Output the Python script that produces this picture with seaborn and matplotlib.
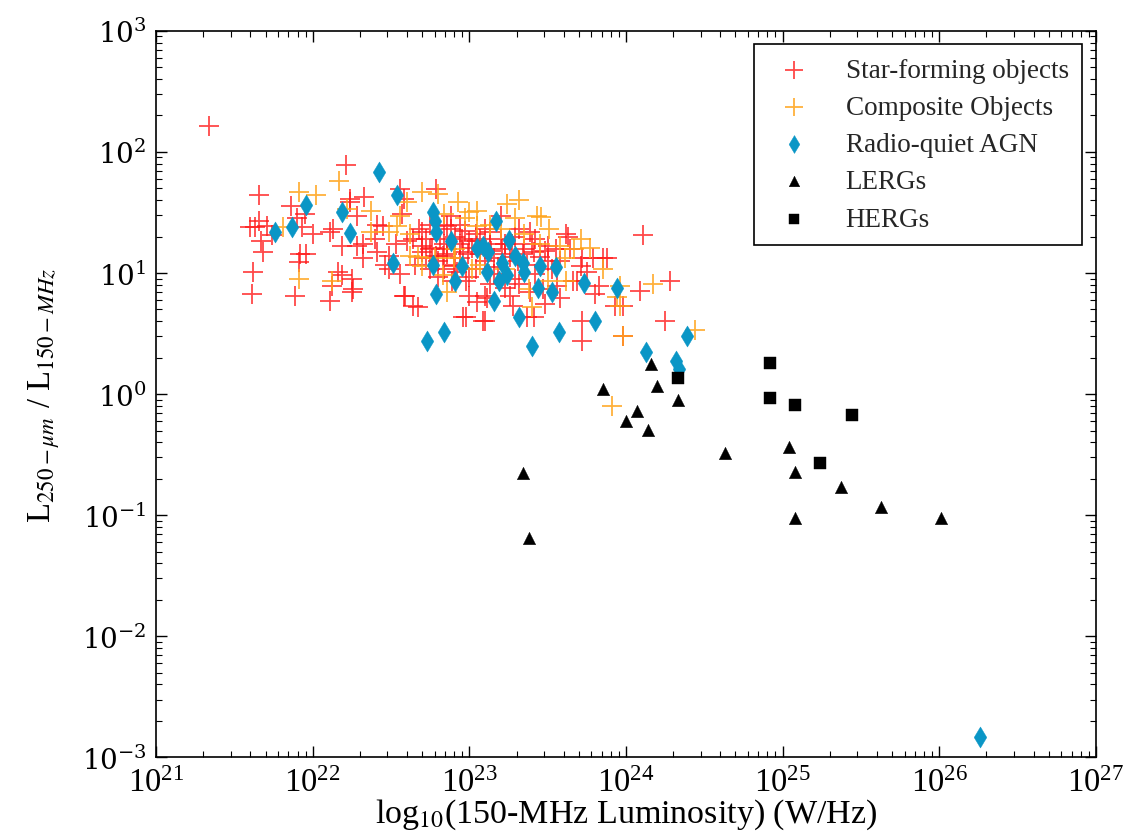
import numpy as np
import pandas as pd
import seaborn as sns
from matplotlib import pyplot as plt
from matplotlib.ticker import NullFormatter

# values, stored as log10 of each axis
sf_logL = [21.34, 22.21, 21.66, 21.86, 21.66, 21.63, 21.71, 21.60, 21.90, 21.95,
           21.93, 22.00, 22.11, 22.24, 22.33, 22.28, 21.67, 21.74, 21.68, 21.62,
           21.61, 21.96, 21.92, 21.91, 21.89, 22.16, 22.11, 22.25, 22.25, 22.19,
           22.28, 22.32, 22.41, 22.49, 22.45, 22.58, 22.79, 22.60, 22.70, 22.83,
           22.90, 22.58, 22.67, 22.96, 22.24, 22.41, 22.32, 22.56, 22.57, 22.64,
           22.70, 22.75, 22.79, 22.86, 22.96, 23.00, 22.98, 22.92, 22.19, 22.26,
           22.12, 23.00, 22.98, 23.09, 23.10, 22.49, 22.13, 22.70, 22.86, 22.88,
           23.32, 23.39, 23.62, 23.64, 23.50, 23.41, 23.72, 23.79, 23.85, 23.75,
           23.69, 23.56, 23.47, 23.39, 23.26, 23.11, 23.05, 23.28, 23.37, 23.10,
           23.72, 23.72, 23.98, 23.20, 23.13, 23.05, 23.21, 24.11, 23.63, 23.88,
           23.71, 23.66, 23.83, 24.09, 24.28, 23.93, 24.25, 22.64, 22.59, 23.41,
           22.81, 22.84, 22.91, 22.94, 22.97, 23.04, 23.07, 23.13, 23.16, 23.20,
           23.23, 23.27, 23.31, 23.35, 23.42, 23.45, 23.50, 23.55, 23.58, 22.72,
           22.75, 22.65, 22.84, 23.04, 23.16, 23.29, 23.42, 22.94, 22.88, 22.75,
           23.80, 23.58, 23.48, 23.98,
           22.72, 22.76, 22.80, 22.86, 22.91, 22.95, 22.99, 23.02, 23.07, 23.10,
           23.14, 23.18, 23.23, 23.26, 23.29, 23.34, 23.37, 23.40, 23.48, 23.53,
           22.80, 22.89, 23.00, 23.13, 23.23, 23.32, 22.68, 22.84, 22.94, 23.10,
           22.53, 22.46, 22.56, 22.40]
sf_logR = [2.21, 1.89, 1.64, 1.55, 1.43, 1.38, 1.39, 1.38, 1.45, 1.49,
           1.38, 1.32, 1.34, 1.61, 1.63, 1.47, 1.26, 1.31, 1.17, 1.01,
           0.83, 1.16, 1.16, 1.09, 0.81, 1.01, 0.77, 0.95, 0.84, 1.22,
           1.22, 1.12, 1.17, 1.14, 1.39, 1.61, 1.69, 1.26, 1.22, 1.14,
           1.06, 0.81, 0.72, 0.64, 1.59, 1.40, 1.24, 1.69, 1.49, 1.28,
           1.17, 1.20, 1.14, 1.20, 1.17, 1.26, 0.93, 1.01, 0.98, 0.87,
           0.89, 0.81, 0.64, 0.60, 0.81, 1.03, 1.36, 1.34, 1.39, 1.47,
           1.36, 1.34, 1.32, 1.20, 1.22, 1.17, 1.12, 1.12, 1.12, 1.01,
           0.93, 0.89, 0.87, 0.84, 0.81, 0.79, 0.76, 0.73, 0.64, 0.60,
           0.60, 0.44, 0.73, 1.47, 1.34, 1.26, 1.20, 1.31, 1.30, 1.12,
           1.06, 0.93, 0.89, 0.85, 0.93, 0.73, 0.60, 0.73, 0.81, 0.64,
           1.28, 1.24, 1.30, 1.24, 1.35, 1.32, 1.16, 1.24, 1.12, 1.28,
           1.16, 1.24, 1.10, 1.20, 1.28, 1.13, 1.10, 1.20, 1.10, 1.12,
           1.03, 1.07, 1.03, 1.03, 0.99, 0.95, 0.99, 1.12, 1.36, 1.40,
           0.83, 0.79, 0.74, 0.48,
           1.28, 1.21, 1.10, 1.16, 1.07, 1.28, 1.16, 1.21, 1.28, 1.10,
           1.18, 1.05, 1.24, 1.13, 1.30, 1.16, 1.07, 1.24, 1.18, 1.03,
           0.97, 0.93, 0.97, 0.91, 0.88, 0.91, 1.36, 1.40, 1.40, 1.36,
           1.24, 1.07, 0.99, 1.28]

comp_logL = [22.17, 21.91, 22.02, 21.81, 22.22, 22.37, 21.91, 22.12, 22.49, 22.56,
             22.70, 22.80, 22.93, 22.67, 22.86, 22.70, 22.37, 22.54, 22.60, 23.00,
             22.62, 22.90, 23.05, 23.02, 22.83, 23.32, 23.24, 23.05, 23.43, 23.46,
             23.51, 23.71, 23.58, 23.85, 23.62, 23.50, 23.40, 23.94, 23.98, 23.96,
             24.17, 23.96, 24.44, 23.91, 23.38, 22.84, 22.97, 23.13, 23.20, 23.29,
             23.35, 22.91, 23.07, 23.23, 23.45, 23.61, 23.67, 23.77, 22.78, 22.62]
comp_logR = [1.76, 1.67, 1.64, 1.38, 1.53, 1.51, 0.95, 0.93, 1.34, 1.47,
             1.67, 1.65, 1.59, 1.13, 0.84, 1.06, 1.34, 1.39, 1.59, 1.50,
             1.14, 1.12, 1.39, 1.03, 0.98, 1.60, 1.57, 1.51, 1.47, 1.46,
             1.36, 1.28, 1.22, 1.03, 0.93, 0.93, 0.72, 0.80, 0.48, 0.89,
             0.91, 0.73, 0.53, -0.10, 0.87, 1.49, 1.45, 1.40, 1.36, 1.45,
             1.32, 1.20, 1.07, 1.03, 1.24, 1.12, 1.20, 1.21, 1.12, 1.32]

rq_logL = [21.76, 21.87, 21.96, 22.19, 22.24, 22.42, 22.54, 22.51, 22.77, 22.78,
           22.79, 22.88, 22.77, 22.95, 22.91, 22.79, 22.84, 22.73, 23.17, 23.25,
           23.05, 23.09, 23.12, 23.29, 23.21, 23.34, 23.35, 23.45, 23.55, 23.11,
           23.24, 23.19, 23.44, 23.53, 23.73, 23.94, 23.16, 23.32, 23.80, 23.57,
           23.40, 24.39, 24.13, 24.32, 24.34, 26.26]
rq_logR = [1.34, 1.38, 1.56, 1.50, 1.33, 1.83, 1.64, 1.08, 1.50, 1.43,
           1.34, 1.26, 1.07, 1.06, 0.93, 0.83, 0.51, 0.44, 1.43, 1.27,
           1.21, 1.22, 1.17, 1.14, 1.08, 1.08, 1.01, 1.06, 1.05, 1.01,
           0.98, 0.93, 0.88, 0.84, 0.92, 0.88, 0.77, 0.64, 0.60, 0.51,
           0.40, 0.48, 0.35, 0.27, 0.21, -2.83]

lerg_logL = [23.85, 24.16, 24.20, 24.33, 24.07, 24.00, 24.14, 24.63, 25.04, 25.08,
             23.34, 25.37, 25.63, 25.08, 26.01, 23.38]
lerg_logR = [0.04, 0.25, 0.07, -0.05, -0.14, -0.22, -0.30, -0.49, -0.44, -0.64,
             -0.65, -0.77, -0.93, -1.02, -1.02, -1.19]

herg_logL = [24.92, 24.33, 24.92, 25.08, 25.44, 25.24]
herg_logR = [0.26, 0.13, -0.03, -0.09, -0.17, -0.57]

groups = [
    ("Star-forming objects", sf_logL, sf_logR),
    ("Composite Objects", comp_logL, comp_logR),
    ("Radio-quiet AGN", rq_logL, rq_logR),
    ("LERGs", lerg_logL, lerg_logR),
    ("HERGs", herg_logL, herg_logR),
]
df = pd.concat(
    [pd.DataFrame({"L150": 10.0 ** np.array(lx), "ratio": 10.0 ** np.array(ly), "cls": name})
     for name, lx, ly in groups],
    ignore_index=True,
)

sns.set_theme(style="ticks")
plt.rcParams["font.family"] = ["Liberation Serif", "DejaVu Serif"]
plt.rcParams["mathtext.fontset"] = "stix"
plt.rcParams["xtick.direction"] = "in"
plt.rcParams["ytick.direction"] = "in"

fig = plt.figure(figsize=(11.31, 8.37), dpi=100)
ax = fig.add_axes([0.138, 0.094, 0.831, 0.868])

styles = {
    "Star-forming objects": dict(marker="+", color="#ff1a1a", s=210, linewidth=1.3, alpha=0.8),
    "Composite Objects": dict(marker="+", color="#ffa31a", s=210, linewidth=1.3, alpha=0.85),
    "Radio-quiet AGN": dict(marker="d", color="#0a96c6", s=115, linewidth=0.3, edgecolor="#0a96c6"),
    "LERGs": dict(marker="^", color="black", s=80, linewidth=0.3, edgecolor="black"),
    "HERGs": dict(marker="s", color="black", s=75, linewidth=0.3, edgecolor="black"),
}
for name, _, _ in groups:
    sub = df[df["cls"] == name]
    sns.scatterplot(data=sub, x="L150", y="ratio", ax=ax, label=name, **styles[name])

ax.set_xscale("log")
ax.set_yscale("log")
ax.set_xlim(1e21, 1e27)
ax.set_ylim(1e-3, 1e3)
ax.tick_params(which="both", top=True, right=True, colors="black")
ax.tick_params(axis="x", which="major", labelsize=23.5, pad=7)
ax.tick_params(which="major", length=8, width=1)
ax.tick_params(which="minor", length=4, width=0.8)
yt = [1e-3, 1e-2, 1e-1, 1e0, 1e1, 1e2, 1e3]
ax.set_yticks(yt, labels=[r"$\mathdefault{10^{%d}}$" % int(np.log10(v)) for v in yt],
              fontfamily="DejaVu Serif", fontsize=20)
ax.tick_params(axis="y", which="major", pad=7)
ax.xaxis.set_minor_formatter(NullFormatter())
ax.yaxis.set_minor_formatter(NullFormatter())
for sp in ax.spines.values():
    sp.set_color("black")
    sp.set_linewidth(1.2)

ax.set_xlabel(r"log$_{10}$(150-MHz Luminosity) (W/Hz)", fontsize=24.5, color="black", labelpad=-1)
ax.set_ylabel(r"L$_{250-\mu m}$ / L$_{150-MHz}$", fontsize=23.5, color="black", labelpad=14)

leg = ax.legend(loc="upper right", fontsize=19.5, frameon=True, fancybox=False,
                labelspacing=0.45, borderpad=0.5, handletextpad=0.9, borderaxespad=0.5,
                markerscale=0.85)
leg.get_frame().set_edgecolor("black")
leg.get_frame().set_linewidth(1.2)
leg.get_frame().set_alpha(1)

plt.savefig("out.png", dpi=100)
